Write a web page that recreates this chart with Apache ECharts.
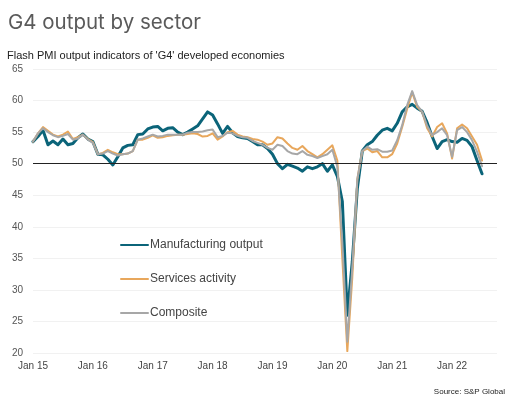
<!DOCTYPE html>
<html>
<head>
<meta charset="utf-8">
<title>G4 output by sector</title>
<script src="https://cdn.jsdelivr.net/npm/echarts@6/dist/echarts.min.js"></script>
<style>
  html, body { margin: 0; padding: 0; background: #fff; }
  #chart { width: 517px; height: 398px; }
</style>
</head>
<body>
<div id="chart"></div>
<script>
// monthly flash PMI readings, Jan 2015 - Jul 2022
var years = ['15', '16', '17', '18', '19', '20', '21', '22'];
var monthNames = ['Jan', 'Feb', 'Mar', 'Apr', 'May', 'Jun', 'Jul', 'Aug', 'Sep', 'Oct', 'Nov', 'Dec'];

var manufacturing = [
  53.5, 54.3, 55.3, 53.0, 53.6, 53.0, 53.9, 53.0, 53.2, 54.1, 54.7, 53.9,
  53.5, 51.5, 51.4, 50.7, 49.8, 51.1, 52.5, 52.9, 53.0, 54.6, 54.7, 55.5,
  55.8, 55.9, 55.2, 55.6, 55.7, 55.0, 54.6, 55.0, 55.5, 56.0, 57.1, 58.2,
  57.7, 56.3, 54.8, 55.9, 54.9, 54.3, 54.1, 54.0, 53.5, 53.0, 53.0, 52.4,
  51.5, 50.0, 49.2, 49.9, 49.6, 49.3, 48.8, 49.5, 49.2, 49.5, 50.0, 48.8,
  49.8, 48.0, 44.0, 26.0, 34.5, 46.0, 52.0, 53.0, 53.5, 54.5, 55.3, 55.6,
  55.2, 56.4, 58.2, 59.0, 59.4, 58.8, 58.3, 56.5, 54.3, 52.4, 53.5, 53.8,
  53.5, 53.4, 54.0, 53.7, 52.7, 50.5, 48.4
];
var services = [
  53.5, 54.8, 55.8, 55.2, 54.6, 54.3, 54.6, 55.1, 53.9, 54.2, 54.6, 53.9,
  53.4, 51.5, 51.7, 52.2, 51.8, 51.5, 51.5, 51.6, 52.0, 53.8, 53.8, 54.1,
  54.5, 54.1, 54.2, 54.4, 54.5, 54.6, 54.6, 54.7, 54.8, 54.7, 54.3, 54.4,
  54.8, 53.8, 54.3, 55.0, 55.2, 54.6, 54.3, 54.2, 53.9, 53.8, 53.5, 53.0,
  53.2, 54.2, 54.0, 53.2, 52.5, 52.2, 52.8, 52.0, 51.5, 51.0, 51.5, 52.2,
  52.9, 50.5, 35.0, 20.3, 32.0, 47.5, 52.0, 52.4, 51.8, 52.0, 51.0, 51.0,
  51.5, 53.2, 55.8, 58.7, 61.3, 59.0, 58.2, 55.6, 54.3, 55.8, 56.4, 54.8,
  50.8, 55.6, 56.2, 55.6, 54.3, 53.0, 50.5
];
var composite = [
  53.5, 54.8, 55.6, 55.0, 54.5, 54.2, 54.4, 54.7, 53.8, 54.0, 54.6, 53.8,
  53.3, 51.5, 51.6, 52.0, 51.6, 51.3, 51.5, 51.6, 52.0, 53.8, 54.0, 54.3,
  54.6, 54.3, 54.4, 54.6, 54.6, 54.6, 54.6, 54.9, 55.0, 55.0, 55.1, 55.3,
  55.4, 54.2, 54.4, 54.9, 54.8, 54.4, 54.2, 54.1, 53.6, 53.3, 53.0, 52.5,
  52.2, 53.0, 52.8, 52.0, 51.6, 51.5, 52.0, 51.4, 51.2, 50.9, 51.2, 51.5,
  52.2, 49.5, 37.5, 21.8, 33.5, 47.5, 52.0, 52.7, 52.2, 52.3, 51.9, 51.9,
  52.1, 53.7, 56.1, 59.3, 61.5, 59.3, 58.2, 56.0, 54.5, 55.0, 55.6, 54.5,
  51.1, 55.3, 55.8, 55.0, 53.7, 51.9, 49.6
];

// axis runs a few months past the last reading (to Oct 22)
var months = [];
years.forEach(function (y) {
  monthNames.forEach(function (m) { months.push(m + ' ' + y); });
});
months = months.slice(0, 94);

var chart = echarts.init(document.getElementById('chart'));

chart.setOption({
  animation: false,
  backgroundColor: '#fff',
  title: [
    {
      text: 'G4 output by sector',
      left: 3,
      top: 7,
      textStyle: { fontFamily: 'Inter', fontSize: 20.5, fontWeight: 'normal', color: '#5a5a5a' }
    },
    {
      text: "Flash PMI output indicators of 'G4' developed economies",
      left: 2,
      top: 45,
      textStyle: { fontFamily: 'Liberation Sans', fontSize: 11, fontWeight: 'normal', color: '#222' }
    },
    {
      text: 'Source: S&P Global',
      right: 7,
      top: 383,
      textStyle: { fontFamily: 'Liberation Sans Narrow, Liberation Sans', fontSize: 8, fontWeight: 'normal', color: '#222' }
    }
  ],
  legend: {
    orient: 'vertical',
    left: 115,
    top: 234,
    itemWidth: 27,
    itemHeight: 14,
    itemGap: 22,
    itemStyle: { opacity: 0 },
    textStyle: { fontFamily: 'Liberation Sans', fontSize: 12, color: '#444', padding: [0, 0, 0, -3] },
    data: ['Manufacturing output', 'Services activity', 'Composite']
  },
  grid: { left: 33, right: 20, top: 69, bottom: 45 },
  xAxis: {
    type: 'category',
    data: months,
    boundaryGap: false,
    axisLine: { show: false },
    axisTick: { show: false },
    axisLabel: {
      interval: function (idx) { return idx % 12 === 0; },
      margin: 8,
      fontFamily: 'Liberation Sans',
      fontSize: 10,
      color: '#444'
    },
    splitLine: { show: false }
  },
  yAxis: {
    type: 'value',
    min: 20,
    max: 65,
    interval: 5,
    axisLine: { show: false },
    axisTick: { show: false },
    axisLabel: {
      align: 'left',
      margin: 21,
      fontFamily: 'Liberation Sans',
      fontSize: 10,
      color: '#555'
    },
    splitLine: { lineStyle: { color: '#f1f1f1', width: 1 } }
  },
  series: [
    {
      name: 'Manufacturing output',
      type: 'line',
      data: manufacturing,
      symbol: 'none',
      color: '#0b6479',
      lineStyle: { width: 3, join: 'round', cap: 'round' },
      markLine: {
        silent: true,
        symbol: 'none',
        label: { show: false },
        lineStyle: { color: '#222', width: 1, type: 'solid' },
        data: [{ yAxis: 50 }]
      }
    },
    {
      name: 'Services activity',
      type: 'line',
      data: services,
      symbol: 'none',
      color: '#e8a75c',
      lineStyle: { width: 2, join: 'round', cap: 'round' }
    },
    {
      name: 'Composite',
      type: 'line',
      data: composite,
      symbol: 'none',
      color: '#a7a7a7',
      lineStyle: { width: 2, join: 'round', cap: 'round' }
    }
  ]
});
</script>
</body>
</html>
